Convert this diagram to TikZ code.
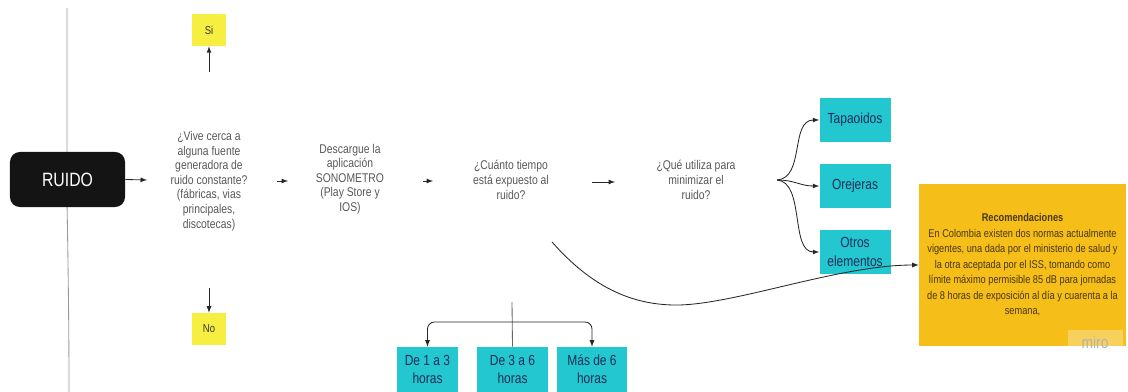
\documentclass[tikz,border=0pt]{standalone}
\usepackage{fontspec}
\setmainfont{Liberation Sans}[FakeStretch=0.82]
\usepackage{tikz}
\usetikzlibrary{arrows}
\definecolor{ruidoblack}{RGB}{20,20,20}
\definecolor{siyellow}{RGB}{246,239,66}
\definecolor{boxcyan}{RGB}{34,199,208}
\definecolor{cyantext}{RGB}{28,45,88}
\definecolor{recogold}{RGB}{246,190,24}
\definecolor{recotext}{RGB}{72,56,18}
\definecolor{asktext}{RGB}{88,88,88}
\tikzstyle{ruidobox}=[fill=ruidoblack,rounded corners=7pt,text=white,minimum width=2.875cm,minimum height=1.375cm,font=\fontsize{13.7}{15}\selectfont]
\tikzstyle{answer}=[fill=siyellow,minimum width=0.825cm,minimum height=0.8cm,text=black!80,font=\fontsize{8.2}{9.5}\selectfont]
\tikzstyle{ask}=[align=center,text=asktext,font=\fontsize{9}{10.4}\selectfont]
\tikzstyle{option}=[fill=boxcyan,text=cyantext,align=center,minimum width=1.775cm,minimum height=1.075cm,font=\fontsize{10.4}{13}\selectfont]
\tikzstyle{hours}=[option,minimum height=1.125cm]
\tikzstyle{reco}=[fill=recogold,text=recotext,align=center,minimum width=5.175cm,minimum height=4.05cm,font=\fontsize{8}{11}\selectfont]
\tikzstyle{miro}=[fill=white,fill opacity=0.3,text opacity=1,text=black!30,minimum width=1.375cm,minimum height=0.6cm,font=\fontsize{12}{13}\selectfont]
\tikzstyle{flow}=[-latex,line width=0.6pt,black!85]
\begin{document}
\begin{tikzpicture}[x=0.025cm,y=-0.025cm]
\useasboundingbox (0,0) rectangle (1128,392);
\draw[black!40,line width=0.6pt] (67,8) -- (67,200) .. controls (68,260) and (69,320) .. (69,392);
\node [ruidobox] (ruido) at (67.5,179.5) {RUIDO};
\node [ask] (vive) at (209,181) {¿Vive cerca a\\alguna fuente\\generadora de\\ruido constante?\\(fábricas, vias\\principales,\\discotecas)};
\node [answer] (si) at (209,30) {Si};
\node [answer] (no) at (209,329) {No};
\node [ask] (descargue) at (350,179) {Descargue la\\aplicación\\SONOMETRO\\(Play Store y\\IOS)};
\node [ask] (tiempo) at (511,180) {¿Cuánto tiempo\\está expuesto al\\ruido?};
\node [ask] (minimizar) at (696,180) {¿Qué utiliza para\\minimizar el\\ruido?};
\node [option] (tapaoidos) at (855,120) {Tapaoidos};
\node [option] (orejeras) at (855,186) {Orejeras};
\node [option] (otros) at (855,252) {Otros\\elementos};
\node [hours] (h13) at (427.5,369.5) [minimum width=1.525cm] {De 1 a 3\\horas};
\node [hours] (h36) at (512.5,369.5) {De 3 a 6\\horas};
\node [hours] (h6) at (592,369.5) [minimum width=1.75cm] {Más de 6\\horas};
\node [reco] (reco) at (1022.5,265) {\textbf{Recomendaciones}\\En Colombia existen dos normas actualmente\\vigentes, una dada por el ministerio de salud y\\la otra aceptada por el ISS, tomando como\\límite máximo permisible 85 dB para jornadas\\de 8 horas de exposición al día y cuarenta a la\\semana,};
\node [miro] (wm) at (1095,342) {miro};
\coordinate (a1) at (147,180);
\coordinate (a2s) at (277,181);
\coordinate (a2e) at (288,181);
\coordinate (a3s) at (423,181);
\coordinate (a3e) at (433,181);
\coordinate (a4s) at (592,182);
\coordinate (a4e) at (615,182);
\coordinate (sistart) at (209,72);
\coordinate (nostart) at (209,288);
\coordinate (fan) at (777,180);
\coordinate (swoop) at (552,242);
\coordinate (split) at (512,302);
\coordinate (branch) at (512,322);
\draw[flow] (ruido.east) -- (a1);
\draw[flow] (a2s) -- (a2e);
\draw[flow] (a3s) -- (a3e);
\draw[flow] (a4s) -- (a4e);
\draw[flow] (sistart) -- (si.south);
\draw[flow] (nostart) -- (no.north);
\draw[flow] (fan) .. controls (805,178) and (790,120) .. (tapaoidos.west);
\draw[flow] (fan) .. controls (795,180) and (800,186) .. (orejeras.west);
\draw[flow] (fan) .. controls (805,182) and (790,252) .. (otros.west);
\draw[flow] (swoop) .. controls (590,285) and (630,306) .. (680,305) .. controls (740,303) and (840,265) .. (reco.west);
\draw[black!60,line width=0.6pt] (split) -- (h36.north);
\draw[flow,rounded corners=5pt] (branch) -| (h13.north);
\draw[flow,rounded corners=5pt] (branch) -| (h6.north);
\end{tikzpicture}
\end{document}
